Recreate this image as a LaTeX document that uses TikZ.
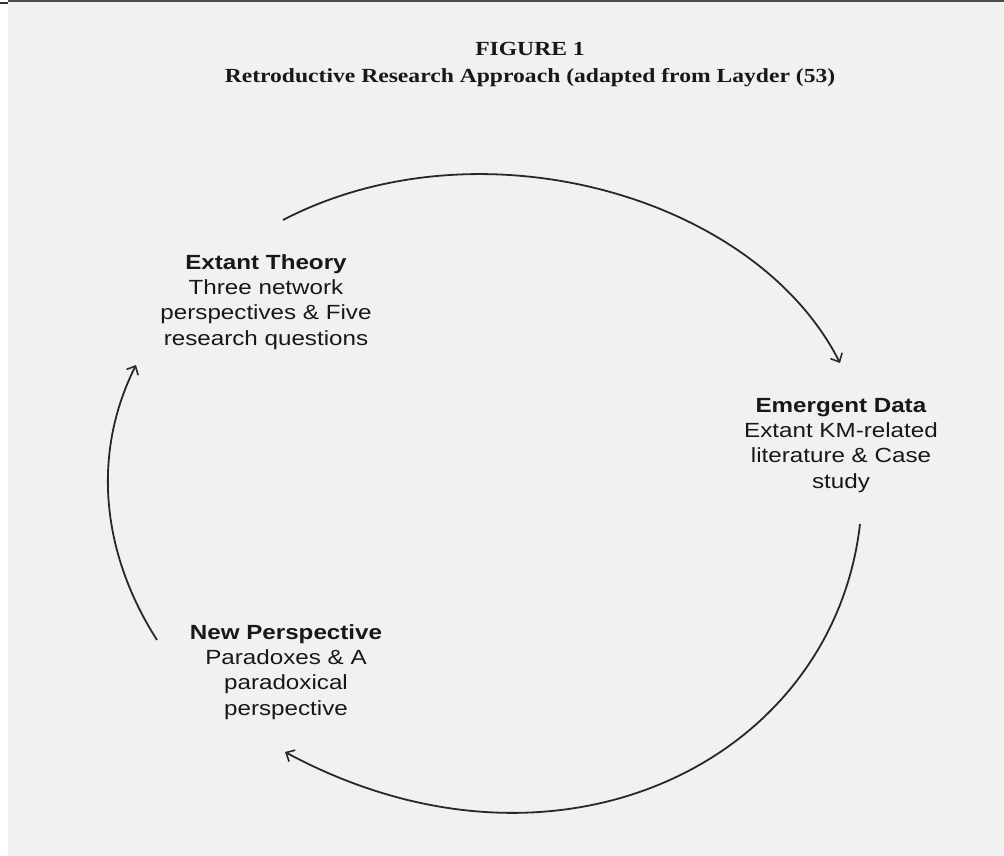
\documentclass[tikz,border=0pt]{standalone}
\usepackage{fontspec}
\newfontfamily\labelfont[FakeStretch=1.18]{Liberation Sans}
\newfontfamily\titlefont[FakeStretch=1.18]{Liberation Serif}
\usetikzlibrary{arrows.meta}
\definecolor{bgcol}{RGB}{241,241,241}
\definecolor{inkcol}{RGB}{24,24,24}
\definecolor{linecol}{RGB}{40,40,40}
\tikzset{
  lbl/.style={anchor=base, align=center, inner sep=0pt, text=inkcol,
    font={\labelfont\fontsize{20.5pt}{25.3pt}\selectfont}},
  ttl/.style={anchor=base, align=center, inner sep=0pt, text=inkcol,
    font={\titlefont\bfseries\fontsize{20pt}{27pt}\selectfont}},
  conn/.style={draw=linecol, line width=1.8pt,
    -{Straight Barb[length=7pt,width=13pt,line width=1.6pt]}}
}
\begin{document}
\begin{tikzpicture}[x=1pt,y=-1pt]
\useasboundingbox (0,0) rectangle (1004,856);
\fill[white] (0,0) rectangle (1004,856);
\fill[bgcol] (8,0) rectangle (1004,856);
\draw[line width=2.5pt, gray!60!black] (8,1.2) -- (1004,1.2);
\draw[line width=1.2pt, gray!40!black] (0,3) -- (8,3);

% anchor=base of a multi-line node sits on the baseline of its last line
\node[ttl] (title) at (530,83) {FIGURE 1\\Retroductive Research Approach (adapted from Layder (53)};

\node[lbl] (theory) at (266,345) {\textbf{Extant Theory}\\Three network\\perspectives \& Five\\research questions};
\node[lbl] (data) at (841,488) {\textbf{Emergent Data}\\Extant KM-related\\literature \& Case\\study};
\node[lbl] (persp) at (286,715) {\textbf{New Perspective}\\Paradoxes \& A\\paradoxical\\perspective};

\coordinate (a0) at (283,220);
\coordinate (a1) at (840,363);
\coordinate (b0) at (860,524);
\coordinate (b1) at (285,752);
\coordinate (c0) at (157,640);
\coordinate (c1) at (136,365);

\draw[conn] (a0) .. controls (479,118) and (755,195) .. (a1);
\draw[conn] (b0) .. controls (833,761) and (558,899) .. (b1);
\draw[conn] (c0) .. controls (102,554) and (91,455) .. (c1);
\end{tikzpicture}
\end{document}
